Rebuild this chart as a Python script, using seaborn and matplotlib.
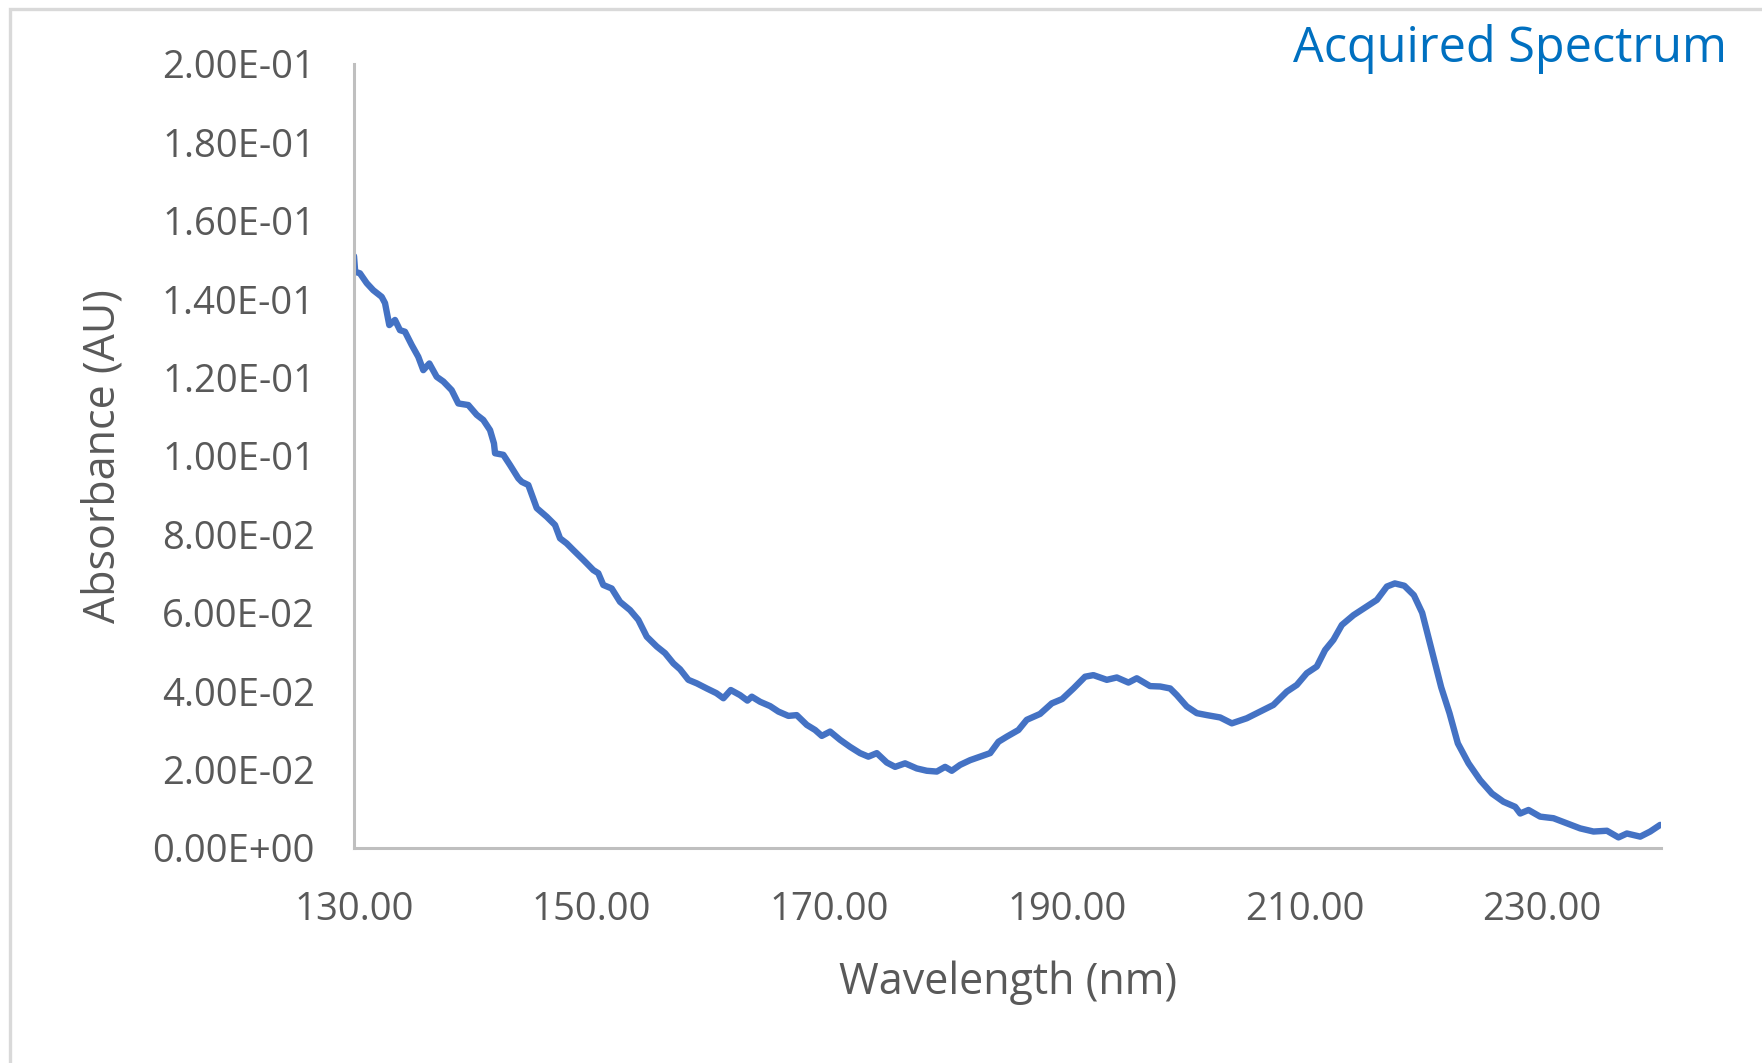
import matplotlib
matplotlib.use("Agg")
import matplotlib.pyplot as plt
from matplotlib.patches import Rectangle
import seaborn as sns
import pandas as pd

# ---- data ----
wavelength_nm = [
    130.0, 130.1, 130.5, 131.07, 131.62, 132.33, 132.61, 132.97, 133.45, 133.87,
    134.29, 134.86, 135.41, 135.83, 136.34, 136.96, 137.52, 138.22, 138.78, 139.62,
    140.33, 140.88, 141.45, 141.78, 141.87, 142.57, 143.13, 143.83, 144.12, 144.67,
    145.38, 146.22, 146.92, 147.34, 147.90, 148.46, 149.30, 150.14, 150.56, 150.98,
    151.69, 152.39, 153.23, 153.93, 154.64, 155.48, 156.18, 156.88, 157.44, 158.14,
    158.85, 159.69, 160.5, 161.09, 161.71, 162.49, 163.11, 163.48, 164.18, 165.02,
    165.72, 166.56, 167.26, 168.11, 168.81, 169.37, 170.07, 170.91, 171.75, 172.59,
    173.29, 174.0, 174.84, 175.54, 176.38, 177.36, 178.21, 179.05, 179.75, 180.31,
    181.01, 181.85, 182.69, 183.54, 184.24, 184.94, 185.92, 186.62, 187.74, 188.73,
    189.6, 190.55, 191.53, 192.23, 193.36, 194.20, 195.18, 195.88, 197.00, 197.85,
    198.69, 199.25, 200.09, 200.93, 201.78, 202.90, 203.88, 205.14, 206.26, 207.38,
    208.51, 209.35, 210.19, 211.03, 211.73, 212.43, 213.14, 214.12, 215.24, 216.09,
    216.93, 217.6, 218.4, 219.2, 219.9, 220.45, 221.0, 221.5, 222.2, 222.9,
    223.80, 224.78, 225.77, 226.74, 227.73, 228.15, 228.85, 229.83, 230.95, 232.08,
    233.20, 234.32, 235.45, 236.42, 237.13, 238.25, 239.09, 239.93,
]
absorbance_au = [
    0.151, 0.147, 0.1466, 0.1441, 0.1423, 0.1406, 0.1390, 0.1334, 0.1347, 0.1321,
    0.1317, 0.1283, 0.1253, 0.1219, 0.1236, 0.1202, 0.1190, 0.1168, 0.1134, 0.1130,
    0.1105, 0.1092, 0.1066, 0.1032, 0.1007, 0.1003, 0.0977, 0.0943, 0.0934, 0.0926,
    0.0867, 0.0845, 0.0824, 0.0790, 0.0777, 0.0760, 0.0735, 0.0709, 0.0701, 0.0671,
    0.0662, 0.0628, 0.0607, 0.0582, 0.0539, 0.0514, 0.0497, 0.0471, 0.0456, 0.0429,
    0.0420, 0.0407, 0.0395, 0.0382, 0.0403, 0.0390, 0.0376, 0.0386, 0.0373, 0.0362,
    0.0348, 0.0337, 0.0339, 0.0314, 0.0301, 0.0286, 0.0297, 0.0276, 0.0258, 0.0242,
    0.0233, 0.0242, 0.0218, 0.0207, 0.0216, 0.0203, 0.0197, 0.0195, 0.0207, 0.0197,
    0.0212, 0.0224, 0.0233, 0.0242, 0.0271, 0.0284, 0.0301, 0.0327, 0.0342, 0.0369,
    0.0380, 0.0407, 0.0437, 0.0441, 0.0429, 0.0435, 0.0422, 0.0433, 0.0413, 0.0412,
    0.0407, 0.0390, 0.0361, 0.0344, 0.0339, 0.0333, 0.0318, 0.0331, 0.0348, 0.0365,
    0.0399, 0.0416, 0.0446, 0.0463, 0.0505, 0.0531, 0.0569, 0.0594, 0.0616, 0.0633,
    0.0667, 0.0675, 0.0669, 0.0645, 0.0600, 0.0535, 0.0471, 0.0410, 0.0344, 0.0267,
    0.0216, 0.0173, 0.0139, 0.0118, 0.0105, 0.0088, 0.0097, 0.0080, 0.0076, 0.0063,
    0.0050, 0.0042, 0.0044, 0.0027, 0.0037, 0.0029, 0.0042, 0.0059,
]
x_ticks = [130, 150, 170, 190, 210, 230]
y_ticks = [0.00, 0.02, 0.04, 0.06, 0.08, 0.10, 0.12, 0.14, 0.16, 0.18, 0.20]
title_text = "Acquired Spectrum"
x_label = "Wavelength (nm)"
y_label = "Absorbance (AU)"

# ---- style ----
sns.set_theme(style="white")
plt.rcParams["font.family"] = ["Open Sans", "DejaVu Sans"]

W, H, DPI = 1762, 1063, 100
fig = plt.figure(figsize=(W / DPI, H / DPI), dpi=DPI, facecolor="white")

# light grey frame around the chart area (cropped at right/bottom)
fig.patches.append(Rectangle((10 / W, -0.5), 2.0, (1 - 9 / H) + 0.5,
                             transform=fig.transFigure, fill=False,
                             edgecolor="#D9D9D9", linewidth=2.4, zorder=0))

ax = fig.add_axes([354 / W, 1 - 848 / H, 1307 / W, 784 / H])

df = pd.DataFrame({"Wavelength": wavelength_nm, "Absorbance": absorbance_au})
sns.lineplot(data=df, x="Wavelength", y="Absorbance", ax=ax, color="#4472C4",
             linewidth=4.6, estimator=None, sort=False, legend=False)

ax.set_xlim(130, 240)
ax.set_ylim(0, 0.2)
ax.set_xticks(x_ticks)
ax.set_yticks(y_ticks)
ax.set_xticklabels([f"{v:.2f}" for v in x_ticks])
ax.set_yticklabels([f"{v:.2E}" for v in y_ticks])

tick_color = "#595959"
ax.tick_params(axis="both", length=0, labelsize=27.5, labelcolor=tick_color)
ax.tick_params(axis="x", pad=31)
ax.tick_params(axis="y", pad=28)

for s in ["top", "right"]:
    ax.spines[s].set_visible(False)
for s in ["left", "bottom"]:
    ax.spines[s].set_color("#BFBFBF")
    ax.spines[s].set_linewidth(2.2)
ax.grid(False)

ax.set_xlabel(x_label, fontsize=31, color=tick_color)
ax.set_ylabel(y_label, fontsize=31, color=tick_color)
ax.xaxis.set_label_coords(0.5004, (848 - 983) / 784)
ax.xaxis.label.set_va("center")
ax.yaxis.set_label_coords((103 - 354) / 1307, 0.5)
ax.yaxis.label.set_va("center")

fig.text(1727 / W, 1 - 62 / H, title_text, ha="right", va="baseline",
         fontsize=35, color="#0070C0")

fig.savefig("out.png", dpi=DPI, facecolor="white")
